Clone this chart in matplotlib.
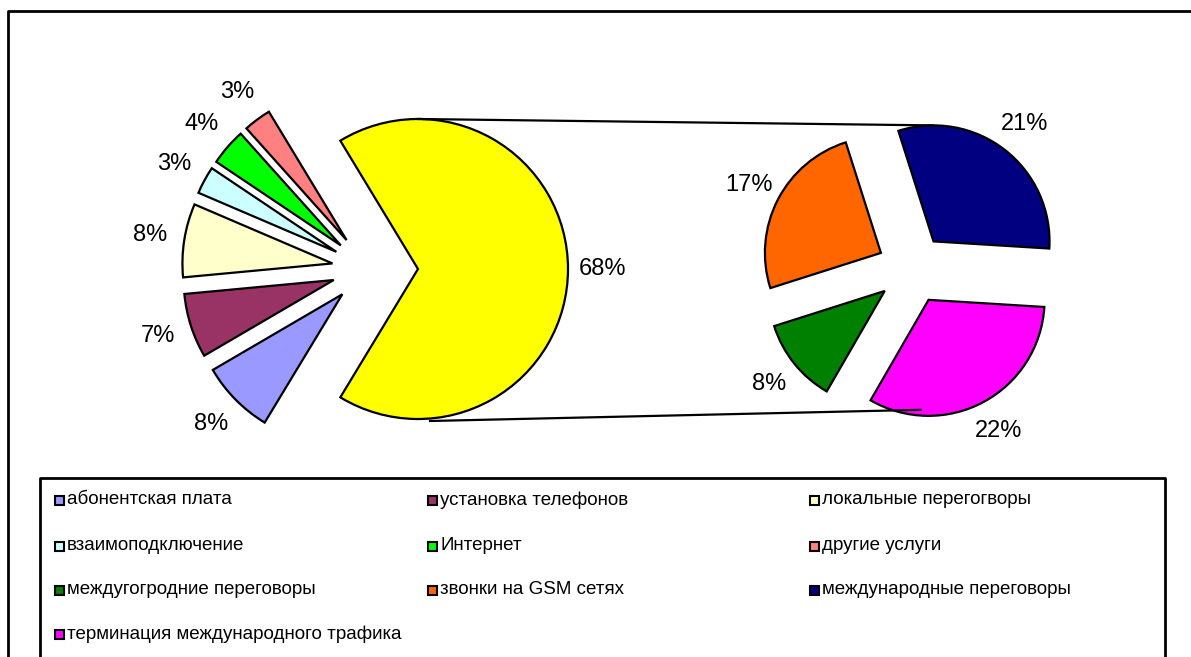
import numpy as np
import matplotlib.pyplot as plt
import matplotlib.patches as mpatches

plt.rcParams['font.family'] = ['Liberation Sans', 'DejaVu Sans']

# ---- data ----
main_labels = ["абонентская плата", "установка телефонов", "локальные перегогворы",
               "взаимоподключение", "Интернет", "другие услуги"]
main_values = [8, 7, 8, 3, 4, 3]
main_colors = ["#9999ff", "#993366", "#ffffcc", "#ccffff", "#00ff00", "#ff8080"]

sub_labels = ["междугогродние переговоры", "звонки на GSM сетях",
              "международные переговоры", "терминация международного трафика"]
sub_values = [8, 17, 21, 22]
sub_colors = ["#008000", "#ff6600", "#000080", "#ff00ff"]

other_value = sum(sub_values)
other_color = "#ffff00"

W, H = 1191, 657
fig = plt.figure(figsize=(W / 100, H / 100), dpi=100)
ax = fig.add_axes([0, 0, 1, 1])

wedge_style = dict(edgecolor="black", linewidth=1.6)
label_style = dict(fontsize=17, ha="center", va="center")

# ---- left pie ----
left_center = (368, H - 269)
left_r = 150
vals = main_values + [other_value]
total = sum(vals)
start = 180 + 360 * sum(main_values) / total / 2
explode = [36] * len(main_values) + [50]
wl, tl = ax.pie(vals, colors=main_colors + [other_color], center=left_center,
                radius=left_r, explode=explode, startangle=start, counterclock=False,
                labels=["%d%%" % v for v in vals], labeldistance=1.23,
                wedgeprops=wedge_style, textprops=label_style, frame=True)

# ---- right pie ----
right_center = (912, H - 269)
right_r = 116
wr, tr = ax.pie(sub_values, colors=sub_colors, center=right_center, radius=right_r,
                explode=[35] * 4, startangle=240, counterclock=False,
                labels=["%d%%" % v for v in sub_values], labeldistance=1.28,
                wedgeprops=wedge_style, textprops=label_style, frame=True)

ax.set_xlim(0, W)
ax.set_ylim(0, H)
ax.axis("off")

# ---- connector lines ----
yc = wl[-1].center
navy = wr[2].center
mag = wr[3].center
ax.plot([yc[0], navy[0]], [yc[1] + left_r, navy[1] + right_r], color="black", lw=1.6)
ax.plot([yc[0] + 12, mag[0] - 8], [yc[1] - left_r - 2, mag[1] - right_r + 6], color="black", lw=1.6)

# ---- outer frame ----
ax.plot([8, 8, W + 5], [-5, H - 11, H - 11], color="black", lw=2, clip_on=False)

# ---- legend (row-major, like Excel) ----
leg_x0, leg_top, leg_x1 = 40, H - 478, 1165
ax.plot([leg_x0, leg_x0, leg_x1, leg_x1], [-5, leg_top, leg_top, -5], color="black", lw=2)
col_x = [55, 428, 810]
row_y = [H - 500, H - 546, H - 590, H - 634]
all_labels = main_labels + sub_labels
all_colors = main_colors + sub_colors
for i, (lab, col) in enumerate(zip(all_labels, all_colors)):
    x = col_x[i % 3]
    y = row_y[i // 3]
    ax.add_patch(mpatches.Rectangle((x, y - 4.5), 9, 9, facecolor=col,
                                    edgecolor="black", lw=1.5))
    ax.text(x + 12, y, lab, fontsize=13.5, ha="left", va="center")

fig.savefig("out.png", dpi=100)
